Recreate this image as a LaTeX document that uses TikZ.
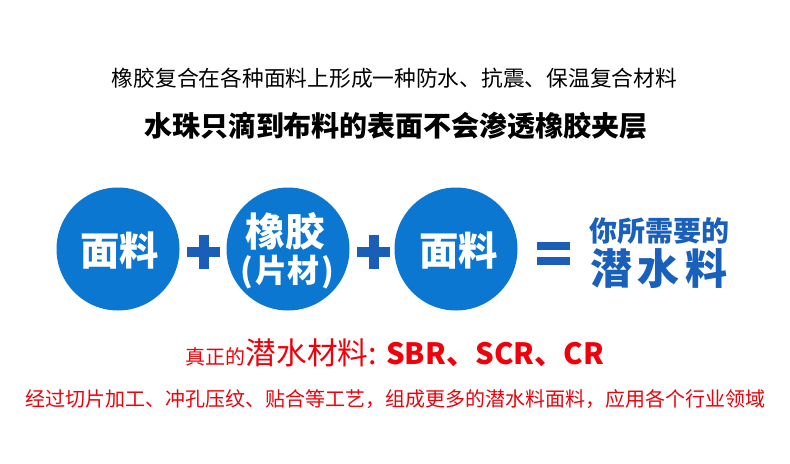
\documentclass[tikz,border=0pt]{standalone}
\usepackage{fontspec}
\setmainfont{Noto Sans CJK SC}
\definecolor{circblue}{RGB}{11,119,208}
\definecolor{signblue}{RGB}{26,94,184}
\definecolor{txtblue}{RGB}{25,95,188}
\definecolor{myred}{RGB}{240,0,10}
\begin{document}
\begin{tikzpicture}[x=0.75pt,y=-0.75pt,
  disc/.style={circle, fill=circblue, minimum size=92.25pt, inner sep=0pt},
  intxt/.style={text=white, inner sep=0pt, font=\bfseries\fontsize{29.5pt}{32pt}\selectfont},
  intxtsmall/.style={text=white, inner sep=0pt, font=\bfseries\fontsize{24pt}{26pt}\selectfont},
  plain/.style={inner sep=0pt},
  signbar/.style={fill=signblue}]
\useasboundingbox (0,0) rectangle (790,464);
\fill[white] (0,0) rectangle (790,464);

% headings
\node[plain, font=\fontsize{16.3pt}{18pt}\selectfont] (l1) at (394.5,78) {橡胶复合在各种面料上形成一种防水、抗震、保温复合材料};
\node[plain, font=\bfseries\fontsize{21pt}{24pt}\selectfont] (l2) at (396,126) {水珠只滴到布料的表面不会渗透橡胶夹层};

% circles
\node[disc] (c1) at (118,249) {};
\node[disc] (c2) at (288,249) {};
\node[disc] (c3) at (456,249) {};
\node[intxt] (t1) at (119.5,251) {面料};
\node[intxt] (t2a) at (285,231) {橡胶};
\node[intxtsmall] (t2b) at (287.5,272.5) {(\hspace{1.5pt}片材\hspace{1.5pt})};
\node[intxt] (t3) at (458.5,251) {面料};

% plus signs
\foreach \cx in {203.5,373.5}{
  \fill[signbar] (\cx-16.5,247) rectangle (\cx+16.5,257);
  \fill[signbar] (\cx-5,235) rectangle (\cx+5,269);
}
% equals sign
\fill[signbar] (537,242) rectangle (570,250);
\fill[signbar] (537,257) rectangle (570,265);

% result text
\node[plain, text=txtblue, font=\bfseries\fontsize{21pt}{24pt}\selectfont] (y1) at (659,230.5) {你所需要的};
\node[plain, text=txtblue, font=\bfseries\fontsize{31.5pt}{34pt}\selectfont] (y2) at (659,269) {潜\hspace{4.5pt}水\hspace{4.5pt}料};

% red lines
\node[plain, text=myred, anchor=base] (r1) at (395,364) {{\fontsize{15pt}{17pt}\selectfont 真正的}{\fontsize{23pt}{25pt}\selectfont 潜水材料: }{\bfseries\fontsize{22pt}{24pt}\selectfont SBR、SCR、CR}};
\node[plain, text=myred, font=\fontsize{15pt}{17pt}\selectfont] (r2) at (395.5,399) {经过切片加工、冲孔压纹、贴合等工艺，组成更多的潜水料面料，应用各个行业领域};
\end{tikzpicture}
\end{document}
